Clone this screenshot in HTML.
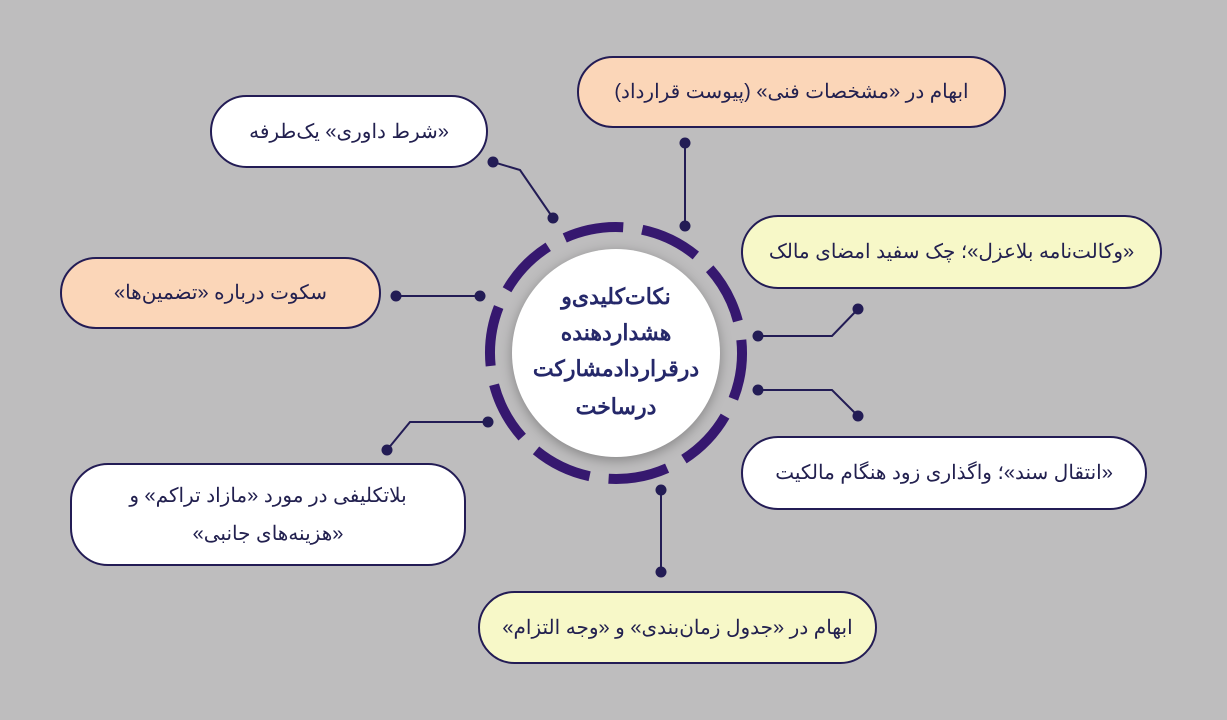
<!DOCTYPE html>
<html><head><meta charset="utf-8"><style>
body{margin:0;width:1227px;height:720px;background:#bebdbe;position:relative;overflow:hidden;font-family:"Liberation Sans","Noto Sans CJK SC",sans-serif}
.b{position:absolute;box-sizing:border-box;border:2px solid #231c55;border-radius:38px;display:flex;align-items:center;justify-content:center;text-align:center;direction:rtl;color:#22204f;font-size:20px;line-height:38px}
svg{position:absolute;left:0;top:0}
</style></head><body>
<svg width="1227" height="720">
<g stroke="#231c55" stroke-width="2" fill="none">
<polyline points="685,143 685,226"/>
<polyline points="493,162 520,170 553,218"/>
<polyline points="858,309 832,336 758,336"/>
<polyline points="396,296 480,296"/>
<polyline points="758,390 832,390 858,416"/>
<polyline points="387,450 410,422 488,422"/>
<polyline points="661,490 661,572"/>
</g>
<g fill="#231c55">
<circle cx="685" cy="143" r="5.5"/><circle cx="685" cy="226" r="5.5"/>
<circle cx="493" cy="162" r="5.5"/><circle cx="553" cy="218" r="5.5"/>
<circle cx="858" cy="309" r="5.5"/><circle cx="758" cy="336" r="5.5"/>
<circle cx="396" cy="296" r="5.5"/><circle cx="480" cy="296" r="5.5"/>
<circle cx="758" cy="390" r="5.5"/><circle cx="858" cy="416" r="5.5"/>
<circle cx="387" cy="450" r="5.5"/><circle cx="488" cy="422" r="5.5"/>
<circle cx="661" cy="490" r="5.5"/><circle cx="661" cy="572" r="5.5"/>
</g>
<circle cx="616" cy="353" r="126" fill="none" stroke="#36186f" stroke-width="10" stroke-dasharray="60 19.17" transform="rotate(-114 616 353)"/>
<circle cx="616" cy="353" r="104" fill="#fff" style="filter:drop-shadow(0 3px 6px rgba(0,0,0,.3))"/>
<g font-size="22" font-weight="bold" fill="#25286a" text-anchor="middle" font-family="Liberation Sans, Noto Sans CJK SC, sans-serif">
<text x="616" y="304" direction="rtl">نکات‌کلیدی‌و</text>
<text x="616" y="340" direction="rtl">هشداردهنده</text>
<text x="616" y="376" direction="rtl">درقراردادمشارکت</text>
<text x="616" y="414" direction="rtl">درساخت</text>
</g>
</svg>
<div class="b" style="left:577px;top:56px;width:429px;height:72px;background:#fbd6b8">ابهام در «مشخصات فنی» (پیوست قرارداد)</div>
<div class="b" style="left:210px;top:95px;width:278px;height:73px;background:#fff">«شرط داوری» یک‌طرفه</div>
<div class="b" style="left:741px;top:215px;width:421px;height:74px;background:#f7f8c8">«وکالت‌نامه بلاعزل»؛ چک سفید امضای مالک</div>
<div class="b" style="left:60px;top:257px;width:321px;height:72px;background:#fbd6b8">سکوت درباره «تضمین‌ها»</div>
<div class="b" style="left:741px;top:436px;width:406px;height:74px;background:#fff">«انتقال سند»؛ واگذاری زود هنگام مالکیت</div>
<div class="b" style="left:70px;top:463px;width:396px;height:103px;background:#fff">بلاتکلیفی در مورد «مازاد تراکم» و<br>«هزینه‌های جانبی»</div>
<div class="b" style="left:478px;top:591px;width:399px;height:73px;background:#f7f8c8">ابهام در «جدول زمان‌بندی» و «وجه التزام»</div>
</body></html>
